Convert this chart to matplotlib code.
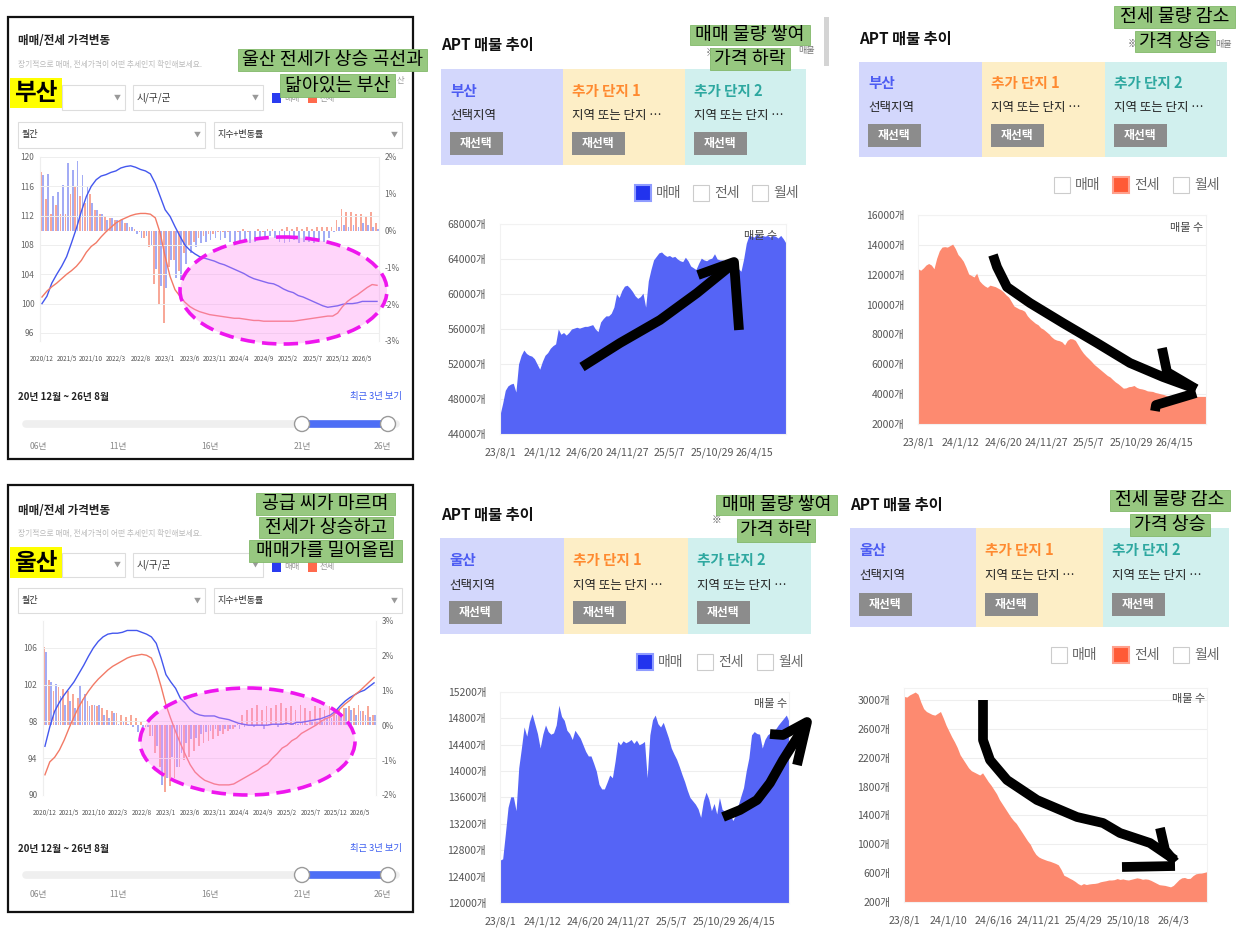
import numpy as np
import matplotlib
matplotlib.use("Agg")
import matplotlib.pyplot as plt
from matplotlib.patches import Rectangle, Ellipse, Circle
from matplotlib import font_manager

plt.rcParams['font.family'] = ['Noto Sans CJK KR', 'DejaVu Sans']
_fonts = {f.name for f in font_manager.fontManager.ttflist}
if 'Liberation Sans Narrow' in _fonts:
    NARROW = ['Liberation Sans Narrow', 'Noto Sans CJK KR']
else:
    NARROW = ['Noto Sans CJK KR']

# ---- price index panels (monthly, 2020/12 ~ 2026/8) ----
month_ticks = ['2020/12', '2021/5', '2021/10', '2022/3', '2022/8', '2023/1', '2023/6',
               '2023/11', '2024/4', '2024/9', '2025/2', '2025/7', '2025/12', '2026/5']

busan_sale = [100.0, 101.0, 102.8, 104.0, 105.1, 106.4, 108.3, 110.3, 112.6, 114.6,
              116.0, 116.9, 117.4, 117.6, 117.9, 118.1, 118.5, 118.7, 118.8, 118.6,
              118.3, 118.1, 117.7, 116.4, 114.6, 112.8, 111.9, 110.5, 109.2, 108.0,
              107.3, 106.8, 106.4, 106.2, 106.0, 105.8, 105.5, 105.3, 105.0, 104.7,
              104.4, 104.1, 103.7, 103.4, 103.2, 103.0, 102.8, 102.7, 102.4, 102.0,
              101.7, 101.5, 101.1, 100.9, 100.6, 100.3, 100.0, 99.7, 99.5, 99.6,
              99.7, 99.9, 100.0, 100.0, 100.1, 100.3, 100.3, 100.3, 100.3]
busan_jeonse = [100.9, 101.7, 102.3, 102.8, 103.4, 104.0, 104.5, 105.1, 105.9, 107.0,
                107.8, 108.3, 109.1, 109.8, 110.4, 111.0, 111.4, 111.7, 112.0, 112.2,
                112.3, 112.3, 112.2, 111.7, 109.6, 106.4, 103.7, 101.9, 101.0, 100.2,
                99.6, 99.2, 98.9, 98.7, 98.5, 98.4, 98.3, 98.2, 98.1, 98.0,
                98.0, 97.9, 97.8, 97.7, 97.7, 97.6, 97.6, 97.6, 97.6, 97.6,
                97.6, 97.6, 97.7, 97.8, 97.9, 98.0, 98.1, 98.2, 98.3, 98.3,
                98.7, 99.6, 100.3, 100.8, 101.2, 101.7, 102.2, 102.6, 102.5]
busan_sale_chg = [1.5, 1.55, 0.95, 1.05, 1.25, 1.85, 1.65, 1.9, 1.5, 1.2,
                  0.75, 0.55, 0.45, 0.3, 0.35, 0.3, 0.3, 0.2, 0.1, -0.1,
                  -0.2, -0.15, -0.4, -1.05, -1.5, -1.55, -0.8, -1.3, -1.35, -0.9,
                  -0.6, -0.45, -0.35, -0.3, -0.25, -0.2, -0.25, -0.2, -0.3, -0.35,
                  -0.3, -0.3, -0.35, -0.3, -0.25, -0.2, -0.15, -0.2, -0.3, -0.35,
                  -0.3, -0.25, -0.35, -0.3, -0.3, -0.35, -0.3, -0.3, -0.2, -0.05,
                  0.1, 0.15, 0.1, 0.15, 0.1, 0.2, 0.15, 0.1, 0.05]
busan_jeonse_chg = [1.6, 0.85, 0.45, 0.7, 0.45, 0.45, 1.0, 1.2, 0.95, 0.75,
                    1.0, 0.55, 0.45, 0.4, 0.35, 0.3, 0.25, 0.2, 0.1, 0.05,
                    -0.05, -0.2, -0.45, -1.45, -2.0, -2.5, -1.0, -0.8, -1.1, -0.6,
                    -0.4, -0.3, -0.2, -0.15, -0.1, -0.1, -0.05, -0.05, -0.05, 0.0,
                    -0.05, 0.05, -0.05, 0.0, 0.05, -0.05, 0.05, 0.05, 0.0, 0.05,
                    0.1, 0.05, 0.1, 0.05, 0.1, 0.05, 0.1, 0.1, 0.1, 0.1,
                    0.3, 0.6, 0.5, 0.5, 0.45, 0.45, 0.4, 0.5, 0.2]

ulsan_sale = [95.3, 97.4, 99.1, 100.1, 100.9, 101.6, 102.3, 103.2, 104.1, 105.1,
              106.0, 106.7, 107.2, 107.5, 107.6, 107.6, 107.7, 107.9, 107.9, 107.9,
              107.7, 107.5, 107.2, 106.5, 104.9, 103.1, 102.3, 101.6, 100.5, 100.0,
              99.3, 98.9, 98.7, 98.6, 98.6, 98.6, 98.4, 98.3, 98.2, 98.0,
              97.8, 97.7, 97.6, 97.6, 97.6, 97.6, 97.6, 97.7, 97.7, 97.7,
              97.8, 97.7, 97.9, 97.9, 98.0, 98.1, 98.2, 98.3, 98.5, 98.7,
              99.1, 99.7, 100.2, 100.6, 100.9, 101.2, 101.4, 101.8, 102.2]
ulsan_jeonse = [92.2, 93.6, 94.1, 94.9, 96.0, 97.3, 98.5, 99.6, 100.5, 101.3,
                102.0, 102.6, 103.1, 103.6, 104.0, 104.3, 104.6, 104.9, 105.1, 105.2,
                105.3, 105.2, 104.9, 103.6, 101.8, 99.8, 98.3, 96.9, 95.6, 94.4,
                93.3, 92.5, 92.0, 91.6, 91.4, 91.2, 91.1, 91.1, 91.1, 91.2,
                91.5, 91.8, 92.1, 92.4, 92.7, 93.1, 93.4, 94.0, 94.5, 95.1,
                95.4, 95.9, 96.2, 96.7, 97.0, 97.3, 97.6, 98.0, 98.3, 98.5,
                98.9, 99.4, 99.9, 100.3, 100.9, 101.3, 101.8, 102.3, 102.8]
ulsan_sale_chg = [2.1, 1.25, 1.2, 0.85, 0.6, 0.7, 0.5, 1.15, 0.9, 0.55,
                  0.6, 0.6, 0.3, 0.2, 0.35, 0.05, 0.1, 0.05, -0.05, -0.2,
                  -0.1, -0.05, -0.3, -0.6, -1.7, -1.5, -0.9, -1.2, -0.8, -0.5,
                  -0.4, -0.35, -0.25, -0.2, -0.15, -0.1, -0.15, -0.1, -0.1, -0.05,
                  -0.1, -0.05, 0.0, -0.05, 0.0, -0.1, 0.05, 0.0, -0.05, 0.05,
                  0.0, 0.05, 0.05, 0.1, 0.05, 0.1, 0.1, 0.15, 0.2, 0.2,
                  0.3, 0.35, 0.5, 0.45, 0.3, 0.4, 0.3, 0.25, 0.3]
ulsan_jeonse_chg = [2.25, 1.3, 1.0, 1.1, 1.05, 1.0, 0.9, 0.8, 0.75, 0.7,
                    0.6, 0.55, 0.5, 0.45, 0.4, 0.35, 0.3, 0.25, 0.3, 0.2,
                    0.1, -0.05, -0.3, -0.8, -1.2, -1.9, -1.75, -1.5, -1.2, -1.0,
                    -0.9, -0.75, -0.6, -0.5, -0.45, -0.4, -0.3, -0.25, -0.15, -0.1,
                    0.05, 0.3, 0.45, 0.5, 0.6, 0.45, 0.55, 0.5, 0.6, 0.65,
                    0.5, 0.55, 0.45, 0.6, 0.5, 0.4, 0.55, 0.5, 0.45, 0.55,
                    0.5, 0.45, 0.5, 0.55, 0.5, 0.6, 0.4, 0.55, 0.3]

# ---- APT listing counts (about every 10 days, 23/8/1 ~ 26/8) ----
dates_a = ['23/8/1', '24/1/12', '24/6/20', '24/11/27', '25/5/7', '25/10/29', '26/4/15']
dates_b = ['23/8/1', '24/1/10', '24/6/16', '24/11/21', '25/4/29', '25/10/18', '26/4/3']

busan_sale_stock = [46200, 47500, 49000, 49500, 49700, 49800, 48800, 52000, 53000, 53600,
                    53200, 53000, 52900, 52600, 52000, 51400, 52300, 53000, 53300, 53800,
                    54100, 54300, 56000, 55400, 55600, 55300, 55600, 56000, 56100, 56200,
                    56100, 56200, 56300, 56300, 56400, 56500, 56000, 55700, 56800, 57200,
                    57500, 57500, 57800, 58500, 60000, 59600, 60400, 60900, 61000, 60700,
                    60300, 59800, 59500, 59700, 60100, 58500, 61500, 62800, 63900, 64300,
                    64700, 64800, 64500, 64300, 64400, 64200, 64300, 64000, 63800, 63700,
                    64200, 63800, 63200, 63000, 62800, 63500, 64100, 63900, 63800, 64000,
                    64100, 64600, 64000, 63900, 63900, 63800, 63900, 63800, 63500, 63200,
                    62900, 62600, 64000, 65800, 66700, 66600, 66500, 66900, 66500, 66700,
                    66600, 66700, 66500, 66700, 66600, 66400, 66700, 66300, 65800]
busan_jeonse_stock = [12400, 12300, 12450, 12650, 12750, 12650, 12400, 13100, 13600, 13850,
                      13880, 13850, 13950, 14050, 13750, 13350, 13150, 12900, 12500, 12050,
                      11950, 11850, 12100, 11600, 11400, 11250, 11150, 11300, 11250, 11200,
                      11100, 11000, 10850, 10650, 10500, 10200, 9900, 9800, 9700, 9650,
                      9550, 9250, 9050, 8900, 8750, 8650, 8450, 8350, 8200, 8050,
                      7850, 7700, 7620, 7580, 7500, 7300, 7600, 7720, 7700, 7600,
                      7300, 7000, 6750, 6550, 6380, 6200, 6000, 5850, 5700, 5550,
                      5400, 5250, 5150, 4980, 4820, 4700, 4550, 4400, 4420, 4500,
                      4520, 4580, 4450, 4380, 4350, 4300, 4220, 4200, 4180, 4110,
                      4070, 4020, 3980, 3920, 3850, 3850, 3860, 3820, 3810, 3810,
                      3800, 3800, 3810, 3830, 3850, 3850, 3850, 3850, 3850]
ulsan_sale_stock = [12650, 12670, 13050, 13450, 13610, 13610, 13400, 14050, 14350, 14670,
                    14530, 14750, 14870, 14720, 14570, 14350, 14560, 14700, 14600, 14560,
                    14580, 14700, 15000, 14830, 14770, 14620, 14570, 14480, 14620, 14560,
                    14500, 14400, 14300, 14230, 14230, 14120, 14000, 13800, 13730, 13730,
                    13830, 13940, 13900, 14150, 14450, 14400, 14460, 14430, 14450, 14480,
                    14420, 14470, 14400, 14420, 14450, 13900, 14550, 14780, 14850, 14720,
                    14670, 14740, 14620, 14500, 14350, 14260, 14180, 14070, 13950, 13840,
                    13710, 13600, 13550, 13500, 13430, 13300, 13550, 13680, 13580, 13400,
                    13510, 13350, 13600, 13420, 13390, 13300, 13350, 13250, 13330, 13480,
                    13620, 13750, 14000, 14200, 14550, 14600, 14570, 14560, 14350, 14480,
                    14550, 14580, 14620, 14640, 14700, 14750, 14800, 14850, 14750]
ulsan_jeonse_stock = [3050, 3040, 3070, 3090, 3110, 3080, 2970, 2880, 2840, 2820,
                      2800, 2790, 2815, 2840, 2750, 2650, 2570, 2490, 2420, 2340,
                      2240, 2180, 2120, 2060, 2020, 2000, 1980, 1960, 1990, 1930,
                      1870, 1820, 1760, 1700, 1620, 1560, 1500, 1440, 1380, 1330,
                      1290, 1230, 1170, 1110, 1050, 1000, 920, 860, 825, 805,
                      790, 775, 765, 750, 735, 715, 650, 570, 552, 530,
                      510, 485, 455, 435, 455, 442, 450, 455, 458, 465,
                      480, 488, 495, 505, 505, 510, 525, 512, 520, 510,
                      505, 515, 525, 535, 528, 515, 520, 515, 500, 480,
                      460, 440, 435, 430, 420, 410, 430, 470, 510, 535,
                      540, 525, 528, 565, 590, 598, 600, 610, 620]

W, H = 1245, 935
fig = plt.figure(figsize=(W / 100, H / 100), dpi=100)
bg = fig.add_axes([0, 0, 1, 1])
bg.set_xlim(0, W)
bg.set_ylim(H, 0)
bg.axis('off')


def px_axes(x0, y0, x1, y1):
    return fig.add_axes([x0 / W, 1 - y1 / H, (x1 - x0) / W, (y1 - y0) / H])


def box(ax, x0, y0, x1, y1, **kw):
    ax.add_patch(Rectangle((x0, y0), x1 - x0, y1 - y0, **kw))


def dropdown(x0, y0, x1, y1, label, size=7):
    box(bg, x0, y0, x1, y1, fc='white', ec='#dddddd', lw=0.8)
    ym = (y0 + y1) / 2
    if label:
        bg.text(x0 + 4, ym, label, fontsize=size, color='#333333', va='center')
    bg.text(x1 - 8, ym, '▼', fontsize=5, color='#999999', ha='center', va='center')


def price_panel(p, region, sale, jeonse, sale_chg, jeonse_chg):
    top, bot = p['frame']
    box(bg, 8, top, 413, bot, fc='white', ec='#111111', lw=1.6)
    bg.text(18, p['title'], '매매/전세 가격변동', fontsize=8.3, fontweight='bold',
            color='#222222', va='center')
    bg.text(18, p['sub'], '장기적으로 매매, 전세가격이 어떤 추세인지 확인해보세요.',
            fontsize=5.6, color='#bbbbbb', va='center')
    d0, d1 = p['dd']
    dropdown(62, d0, 125, d1, '')
    dropdown(133, d0, 263, d1, '시/구/군')
    ly = p['leg']
    box(bg, 272, ly - 5, 281, ly + 5, fc='#2a3cf0', ec='none')
    bg.text(284, ly, '매매', fontsize=6, color='#999999', va='center')
    box(bg, 308, ly - 5, 317, ly + 5, fc='#ff6a4d', ec='none')
    bg.text(320, ly, '전세', fontsize=6, color='#999999', va='center')
    ya, yb = p['tag']
    box(bg, 10, ya, 62, yb, fc='#ffff00', ec='none')
    bg.text(36, (ya + yb) / 2, region, fontsize=17, fontweight='bold',
            ha='center', va='center')
    r0, r1 = p['row2']
    dropdown(18, r0, 205, r1, '월간', 6.5)
    dropdown(214, r0, 402, r1, '지수+변동률', 6.5)

    (x0, x1), (y0, y1) = p['plot_x'], p['plot_y']
    ax = px_axes(x0, y0, x1, y1)
    ax2 = ax.twinx()
    x = np.arange(len(sale))
    ax2.bar(x - 0.22, jeonse_chg, width=0.36, color='#f8a898', lw=0)
    ax2.bar(x + 0.22, sale_chg, width=0.36, color='#a3acf5', lw=0)
    ax.plot(x, sale, color='#4457ee', lw=1.0)
    ax.plot(x, jeonse, color='#f27a66', lw=1.0)
    ax.set_zorder(ax2.get_zorder() + 1)
    ax.patch.set_visible(False)
    ax.set_xlim(-0.4, len(sale) - 0.6)
    ax.set_ylim(*p['lylim'])
    ax.set_yticks(p['lyticks'])
    ax.set_yticklabels([str(v) for v in p['lyticks']], fontfamily=NARROW)
    ax2.set_ylim(*p['rylim'])
    ax2.set_yticks(p['ryticks'])
    ax2.set_yticklabels([f'{v}%' for v in p['ryticks']], fontfamily=NARROW)
    ax.set_xticks(range(0, 5 * len(month_ticks), 5))
    ax.set_xticklabels(month_ticks, fontfamily=NARROW)
    ax.yaxis.grid(True, color='#eeeeee', lw=0.7)
    for a in (ax, ax2):
        for side in ('top', 'bottom'):
            a.spines[side].set_visible(False)
        a.spines['left'].set_color('#eeeeee')
        a.spines['right'].set_color('#eeeeee')
    ax.tick_params(axis='y', length=0, labelsize=6, colors='#666666', pad=4)
    ax2.tick_params(axis='y', length=0, labelsize=6, colors='#666666', pad=4)
    ax.tick_params(axis='x', length=0, labelsize=4.6, colors='#555555', pad=10)

    bg.text(18, p['range'], '20년 12월 ~ 26년 8월', fontsize=7, fontweight='bold',
            color='#222222', va='center')
    bg.text(402, p['range'], '최근 3년 보기', fontsize=6.7, color='#3a5cf0',
            ha='right', va='center')
    sy = p['slider']
    bg.plot([26, 396], [sy, sy], color='#efefef', lw=5.5, solid_capstyle='round')
    bg.plot([302, 388], [sy, sy], color='#4d6ef5', lw=5.5)
    for cx in (302, 388):
        bg.add_patch(Circle((cx, sy), 7.5, fc='white', ec='#9a9a9a', lw=1, zorder=5))
    for lx, lab in zip([38, 118, 210, 302, 382], ['06년', '11년', '16년', '21년', '26년']):
        bg.text(lx, p['slab'], lab, fontsize=6.2, color='#888888', ha='center', va='center')


def apt_panel(p, region, stock, filled, color, dates):
    bg.text(p['title'][0], p['title'][1], 'APT 매물 추이', fontsize=11,
            fontweight='bold', color='#111111', va='center')
    xs = p['cols']
    y0, y1 = p['boxy']
    fills = ['#d3d7fc', '#fdeec6', '#d1f0ee']
    heads = [region, '추가 단지 1', '추가 단지 2']
    head_cols = ['#4d5cf2', '#ff8a30', '#2ea8a0']
    subs = ['선택지역', '지역 또는 단지 …', '지역 또는 단지 …']
    b0, b1 = p['btn']
    for i in range(3):
        box(bg, xs[i], y0, xs[i + 1], y1, fc=fills[i], ec='none')
        tx = xs[i] + 9
        bg.text(tx, p['name'], heads[i], fontsize=10.5, color=head_cols[i],
                fontweight='bold', va='center')
        bg.text(tx, p['sub'], subs[i], fontsize=9, color='#222222', va='center')
        box(bg, tx, b0, tx + 53, b1, fc='#8c8c8c', ec='none')
        bg.text(tx + 26.5, (b0 + b1) / 2, '재선택', fontsize=8.5, color='white',
                fontweight='bold', ha='center', va='center')
    ly = p['legy']
    strong = '#2233ee' if filled == 0 else '#ff5a36'
    light = '#8f9cff' if filled == 0 else '#ffa08c'
    for i, (sx, lab) in enumerate(zip(p['leg'], ['매매', '전세', '월세'])):
        if i == filled:
            box(bg, sx, ly - 8, sx + 16, ly + 8, fc=strong, ec=light, lw=1.5)
        else:
            box(bg, sx, ly - 8, sx + 16, ly + 8, fc='white', ec='#cccccc', lw=0.8)
        bg.text(sx + 21, ly, lab, fontsize=10, color='#666666', va='center')

    ax = px_axes(*p['plot'])
    x = np.arange(len(stock))
    lo, hi = p['ylim']
    ax.fill_between(x, stock, lo, color=color, lw=0)
    ax.set_xlim(0, len(stock) - 1)
    ax.set_ylim(lo, hi)
    ax.set_yticks(p['yticks'])
    ax.set_yticklabels([f'{v}개' for v in p['yticks']])
    ax.set_xticks(range(0, 16 * len(dates), 16))
    ax.set_xticklabels(dates)
    ax.yaxis.grid(True, color='#eeeeee', lw=0.8)
    ax.set_axisbelow(True)
    for s in ax.spines.values():
        s.set_color('#f2f2f2')
    ax.tick_params(length=0, labelsize=7.5, colors='#555555')
    ax.tick_params(axis='y', pad=10)
    ax.tick_params(axis='x', pad=10, labelsize=7.6)
    ax.patch.set_visible(False)
    return ax


price_panel(dict(frame=(17, 459), title=41, sub=64, dd=(85, 110), leg=98, tag=(78, 108),
                 row2=(122, 148), plot_x=(40, 379), plot_y=(157, 341),
                 lylim=(94.9, 120), lyticks=[96, 100, 104, 108, 112, 116, 120],
                 rylim=(-3, 2), ryticks=[-3, -2, -1, 0, 1, 2],
                 range=397, slider=424, slab=446),
            '부산', busan_sale, busan_jeonse, busan_sale_chg, busan_jeonse_chg)
price_panel(dict(frame=(485, 912), title=510, sub=533, dd=(553, 577), leg=567, tag=(547, 578),
                 row2=(588, 613), plot_x=(43, 376), plot_y=(621, 795),
                 lylim=(90, 108.93), lyticks=[90, 94, 98, 102, 106],
                 rylim=(-2, 3), ryticks=[-2, -1, 0, 1, 2, 3],
                 range=849, slider=875, slab=895),
            '울산', ulsan_sale, ulsan_jeonse, ulsan_sale_chg, ulsan_jeonse_chg)

# faint text partly hidden under the notes
bg.text(397, 80, '산', fontsize=6, color='#999999', va='center')
bg.text(706, 53, '※', fontsize=7, color='#555555', va='center')
bg.text(798, 50, '매물', fontsize=6.5, color='#777777', va='center')
bg.text(1128, 44, '※', fontsize=7, color='#555555', va='center')
bg.text(1215, 44, '매물', fontsize=6.5, color='#777777', va='center')
bg.text(712, 520, '※', fontsize=7, color='#555555', va='center')
box(bg, 824, 17, 829, 66, fc='#d4d4d4', ec='none')

apt_panel(dict(title=(441, 45), cols=[441, 563, 685, 806], boxy=(69, 165), name=91, sub=116,
               btn=(132, 155), legy=193, leg=[635, 693, 752], plot=(500, 224, 786, 434),
               ylim=(44000, 68000), yticks=list(range(44000, 68001, 4000))),
          '부산', busan_sale_stock, 0, '#5564f6', dates_a)
apt_panel(dict(title=(859, 39), cols=[859, 982, 1105, 1227], boxy=(62, 157), name=83, sub=108,
               btn=(124, 147), legy=185, leg=[1054, 1113, 1173], plot=(918, 215, 1206, 424),
               ylim=(2000, 16000), yticks=list(range(2000, 16001, 2000))),
          '부산', busan_jeonse_stock, 1, '#fd8a70', dates_a)
apt_panel(dict(title=(441, 515), cols=[440, 564, 688, 811], boxy=(538, 634), name=560, sub=585,
               btn=(601, 624), legy=662, leg=[637, 697, 757], plot=(500, 692, 789, 903),
               ylim=(12000, 15200), yticks=list(range(12000, 15201, 400))),
          '울산', ulsan_sale_stock, 0, '#5564f6', dates_a)
apt_panel(dict(title=(850, 505), cols=[850, 976, 1103, 1229], boxy=(528, 627), name=550, sub=576,
               btn=(593, 616), legy=655, leg=[1051, 1113, 1173], plot=(904, 688, 1207, 902),
               ylim=(200, 3166), yticks=list(range(200, 3001, 400))),
          '울산', ulsan_jeonse_stock, 1, '#fd8a70', dates_b)

# ---- overlay: hand drawn marks and notes ----
ov = fig.add_axes([0, 0, 1, 1], zorder=10)
ov.set_xlim(0, W)
ov.set_ylim(H, 0)
ov.axis('off')
ov.patch.set_alpha(0)

for cx, cy, ew, eh in [(283.5, 290.5, 207, 107), (247.5, 741.5, 215, 107)]:
    ov.add_patch(Ellipse((cx, cy), ew, eh, fc='#ff88f2', ec='none', alpha=0.35))
    ov.add_patch(Ellipse((cx, cy), ew, eh, fc='none', ec='#ee16ee', lw=2.6,
                         linestyle=(0, (4, 2))))

for tx, ty in [(777, 236), (1203, 228), (787, 704), (1205, 699)]:
    ov.text(tx, ty, '매물 수', fontsize=8, color='#444444', ha='right', va='center')

strokes = [
    [(582, 367), (620, 343), (660, 320), (697, 293), (734, 263)],
    [(698, 275), (734, 262), (739, 330)],
    [(993, 255), (997, 267), (1007, 287), (1030, 303), (1063, 323), (1097, 343),
     (1130, 363), (1163, 377), (1196, 389)],
    [(1162, 348), (1167, 372), (1196, 389)],
    [(1196, 393), (1156, 405), (1155, 411)],
    [(723, 817), (740, 810), (757, 800), (770, 783), (783, 760), (797, 738), (807, 722)],
    [(770, 734), (783, 735), (807, 722), (797, 765)],
    [(983, 700), (983, 740), (990, 760), (1007, 780), (1037, 800), (1077, 817),
     (1103, 823), (1120, 833), (1150, 843), (1175, 860)],
    [(1160, 828), (1165, 850), (1175, 862)],
    [(1122, 867), (1175, 866)],
]
for s in strokes:
    xs_, ys_ = zip(*s)
    ov.plot(xs_, ys_, color='black', lw=7, solid_capstyle='butt', solid_joinstyle='round')

notes = [
    ('울산 전세가 상승 곡선과', 238, 49, 427, 71),
    ('닮아있는 부산', 280, 74, 395, 97),
    ('매매 물량 쌓여', 690, 25, 810, 45),
    ('가격 하락', 710, 48, 790, 70),
    ('전세 물량 감소', 1114, 6, 1235, 28),
    ('가격 상승', 1135, 31, 1215, 52),
    ('공급 씨가 마르며', 256, 493, 395, 515),
    ('전세가 상승하고', 259, 517, 393, 538),
    ('매매가를 밀어올림', 249, 540, 402, 562),
    ('매매 물량 쌓여', 716, 495, 837, 515),
    ('가격 하락', 737, 519, 815, 542),
    ('전세 물량 감소', 1110, 490, 1230, 511),
    ('가격 상승', 1130, 514, 1210, 536),
]
for s, x0, y0, x1, y1 in notes:
    box(ov, x0, y0, x1, y1, fc='#97c880', ec='#82b86a', lw=0.6)
    ov.text((x0 + x1) / 2, (y0 + y1) / 2, s, fontsize=13.2, color='black',
            ha='center', va='center')

fig.savefig('out.png', dpi=100)
